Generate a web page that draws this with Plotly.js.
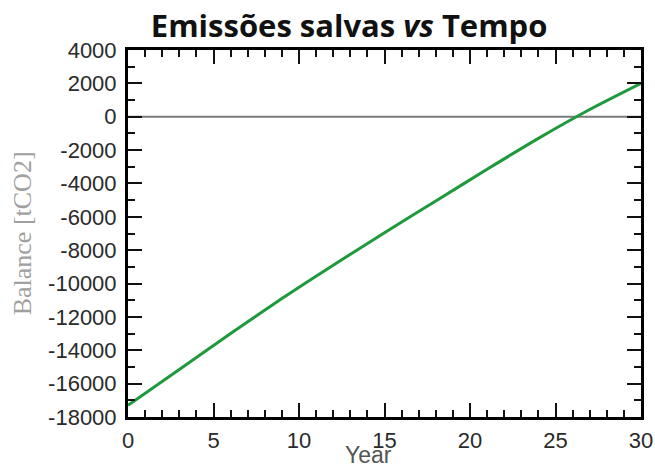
<!DOCTYPE html>
<html>
<head>
<meta charset="utf-8">
<script src="https://cdn.plot.ly/plotly-3.0.1.min.js"></script>
<style>html,body{margin:0;padding:0;background:#fff;}#chart{width:655px;height:465px;}</style>
</head>
<body>
<div id="chart"></div>
<script>
// Data
var years   = [0, 3, 6, 9, 12, 15, 18, 21, 24, 27, 30];
var balance = [-17300, -15150, -13000, -10900, -8900, -6950, -5050, -3150, -1300, 430, 2000];
var yTickVals = [4000, 2000, 0, -2000, -4000, -6000, -8000, -10000, -12000, -14000, -16000, -18000];
var yTickText = ["4000", "2000", "0", "-2000", "-4000", "-6000", "-8000", "-10000", "-12000", "-14000", "-16000", "-18000"];
var xTickVals = [0, 5, 10, 15, 20, 25, 30];
var xTickText = ["0", "5", "10", "15", "20", "25", "30"];

var traces = [
  {x: [0, 30], y: [0, 0], mode: 'lines', line: {color: '#7a7a7a', width: 2}, hoverinfo: 'skip', showlegend: false},
  {x: years, y: balance, mode: 'lines', line: {color: '#1e9a3c', width: 3, shape: 'spline', smoothing: 0.6}, showlegend: false},
  // transparent trace on the mirrored axes so the top/right ticks are drawn
  {x: [0, 30], y: [-18000, 4000], xaxis: 'x2', yaxis: 'y2', mode: 'lines', line: {color: 'rgba(0,0,0,0)', width: 0}, hoverinfo: 'skip', showlegend: false}
];

var tickFont = {family: 'Liberation Sans, Arial, sans-serif', size: 22, color: '#2a2a2a'};
var axisCommon = {
  showgrid: false, zeroline: false, showline: true, linecolor: '#000', linewidth: 3,
  mirror: true, ticks: 'inside', ticklen: 14, tickwidth: 2, tickcolor: '#111',
  tickfont: tickFont
};

var layout = {
  width: 655, height: 465,
  margin: {l: 128, r: 14, t: 50, b: 48},
  paper_bgcolor: '#fff', plot_bgcolor: '#fff',
  title: {
    text: 'Emissões salvas <i>vs</i> Tempo',
    font: {family: 'Open Sans, sans-serif', size: 31, color: '#111', weight: 'bold'},
    xref: 'container', x: 0.533, xanchor: 'center',
    yref: 'container', y: 0.943, yanchor: 'middle'
  },
  xaxis: Object.assign({}, axisCommon, {
    range: [0, 30], tickvals: xTickVals, ticktext: xTickText, ticklabelstandoff: 2,
    minor: {ticks: 'inside', dtick: 1, tick0: 0, ticklen: 7, tickwidth: 2, tickcolor: '#111'}
  }),
  yaxis: Object.assign({}, axisCommon, {
    range: [-18000, 4000], tickvals: yTickVals, ticktext: yTickText, ticklabelstandoff: 4,
    minor: {ticks: 'inside', dtick: 1000, tick0: 0, ticklen: 7, tickwidth: 2, tickcolor: '#111'}
  }),
  xaxis2: {
    overlaying: 'x', side: 'top', anchor: 'y2', range: [0, 30], showgrid: false, zeroline: false,
    showline: false, showticklabels: false, ticks: 'inside', dtick: 5, tick0: 0, ticklen: 14, tickwidth: 2, tickcolor: '#111',
    minor: {ticks: 'inside', dtick: 1, tick0: 0, ticklen: 7, tickwidth: 2, tickcolor: '#111'}
  },
  yaxis2: {
    overlaying: 'y', side: 'right', anchor: 'x2', range: [-18000, 4000], showgrid: false, zeroline: false,
    showline: false, showticklabels: false, ticks: 'inside', dtick: 2000, tick0: 0, ticklen: 14, tickwidth: 2, tickcolor: '#111',
    minor: {ticks: 'inside', dtick: 1000, tick0: 0, ticklen: 7, tickwidth: 2, tickcolor: '#111'}
  },
  annotations: [
    {
      text: 'Year', xref: 'paper', yref: 'paper', x: 0.468, y: -0.063, xanchor: 'center', yanchor: 'top',
      showarrow: false, font: {family: 'Liberation Sans, Arial, sans-serif', size: 23, color: '#555'}
    },
    {
      text: 'Balance [tCO2]', xref: 'paper', yref: 'paper', x: -0.205, y: 0.5, xanchor: 'center', yanchor: 'middle',
      textangle: -90, showarrow: false, font: {family: 'Liberation Serif, Times New Roman, serif', size: 26, color: '#a0a0a0'}
    }
  ]
};

Plotly.newPlot('chart', traces, layout, {displayModeBar: false, staticPlot: true});
</script>
</body>
</html>
